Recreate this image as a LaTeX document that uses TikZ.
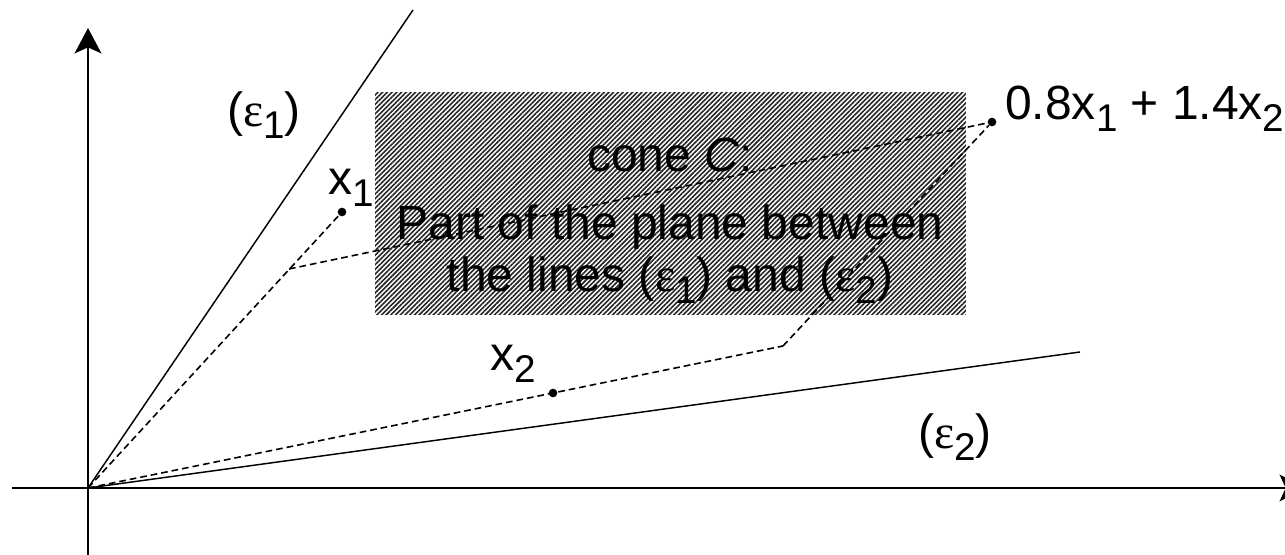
\documentclass[tikz,border=0pt]{standalone}
\usepackage{fontspec}
\setmainfont{Liberation Sans}
\newfontfamily\grkfont{Liberation Serif}
\usetikzlibrary{arrows.meta, patterns.meta}
\newcommand{\idx}[1]{\raisebox{-0.25em}{\fontsize{29}{29}\selectfont #1}}
\newcommand{\eps}{{\grkfont ε}}

\begin{document}
\begin{tikzpicture}[
    x=0.75pt, y=-0.75pt,
    axis/.style={line width=2.2pt, -{Stealth[length=19pt, width=20pt, inset=4.5pt]}},
    ray/.style={line width=1.1pt},
    guide/.style={line width=1.2pt, dash pattern=on 5pt off 3pt},
    dot/.style={circle, fill=black, inner sep=0pt, minimum size=6.5pt},
    lbl/.style={inner sep=0pt, anchor=base, font=\fontsize{36}{43}\selectfont},
    conebox/.style={rectangle, inner sep=0pt, minimum width=443pt, minimum height=166pt,
        pattern={Lines[angle=45, distance=2.5pt, line width=1.2pt]}, pattern color=black!85}
]
\useasboundingbox (0,0) rectangle (1285,555);

% Cone region
\node[conebox] (cone) at (670.5,203.5) {};

% Axes
\coordinate (O) at (88,488);
\coordinate (xstart) at (12,488);
\coordinate (xend) at (1305,488);
\coordinate (ystart) at (88,555);
\coordinate (yend) at (88,28);
\draw[axis] (xstart) -- (xend);
\draw[axis] (ystart) -- (yend);

% Boundary lines
\coordinate (e1end) at (413,10);
\coordinate (e2end) at (1080,352);
\draw[ray] (O) -- (e1end);
\draw[ray] (O) -- (e2end);

% Vectors
\node[dot] (x1) at (342,212) {};
\node[dot] (x2) at (553,393) {};
\node[dot] (sum) at (992,122) {};
\coordinate (a1) at (289,269);
\coordinate (a2) at (783,346);
\draw[guide] (O) -- (x1);
\draw[guide] (O) -- (a2);
\draw[guide] (a1) -- (sum);
\draw[guide] (a2) -- (sum);

% Labels
\node[lbl] (e1lbl) at (264,127) {(\eps\idx{1})};
\node[lbl] (x1lbl) at (351,195) {x\idx{1}};
\node[lbl] (x2lbl) at (513,371) {x\idx{2}};
\node[lbl] (e2lbl) at (955,449) {(\eps\idx{2})};
\node[lbl, anchor=base west] (sumlbl) at (1005,120) {0.8x\idx{1} + 1.4x\idx{2}};

% Text in the cone
\node[lbl] (conetitle) at (670,172) {cone \textit{C}:};
\node[lbl] (conedesc) at (670,240) {Part of the plane between};
\node[lbl] (conedesc2) at (670,292) {the lines (\eps\idx{1}) and (\eps\idx{2})};

\end{tikzpicture}
\end{document}
